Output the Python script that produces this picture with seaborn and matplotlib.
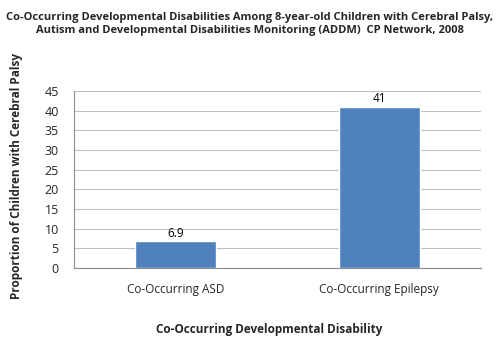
import matplotlib
matplotlib.use("Agg")
import matplotlib.pyplot as plt
import seaborn as sns
import pandas as pd

categories = ["Co-Occurring ASD", "Co-Occurring Epilepsy"]
values = [6.9, 41]
yticks = [0, 5, 10, 15, 20, 25, 30, 35, 40, 45]

sns.set_theme(style="white")
plt.rcParams["font.family"] = ["Open Sans", "DejaVu Sans"]

df = pd.DataFrame({"disability": categories, "proportion": values})

fig = plt.figure(figsize=(5.0, 3.43), dpi=100)
ax = fig.add_axes([0.148, 0.219, 0.814, 0.516])

sns.barplot(data=df, x="disability", y="proportion", color="#4F81BD",
            saturation=1, width=0.4, ax=ax, zorder=3)

for patch, v in zip(ax.patches, values):
    ax.text(patch.get_x() + patch.get_width() / 2, v + 0.3, f"{v:g}",
            ha="center", va="bottom", fontsize=8.5, color="#000000")

ax.set_ylim(0, 45)
ax.set_xlim(-0.5, 1.5)
ax.set_yticks(yticks)
ax.set_yticklabels([str(t) for t in yticks], fontsize=9)
ax.yaxis.grid(True, color="#bfbfbf", linewidth=0.8, zorder=0)
ax.set_axisbelow(True)

# category ticks sit at the group boundaries, labels at the centres
ax.set_xticks([-0.5, 0.5, 1.5])
ax.set_xticklabels([])
ax.set_xticks([0, 1], minor=True)
ax.set_xticklabels(categories, minor=True, fontsize=8.5)
ax.tick_params(axis="x", which="minor", length=0, pad=11)
ax.tick_params(axis="x", which="major", length=4, color="#8c8c8c", direction="out")
ax.tick_params(axis="y", length=3, color="#8c8c8c", direction="out", pad=8)

for side in ["top", "right"]:
    ax.spines[side].set_visible(False)
for side in ["left", "bottom"]:
    ax.spines[side].set_color("#8c8c8c")
    ax.spines[side].set_linewidth(0.8)

ax.set_xlabel("Co-Occurring Developmental Disability", fontsize=8.5,
              fontweight="bold")
ax.xaxis.set_label_coords(0.48, -0.31)
ax.set_ylabel("Proportion of Children with Cerebral Palsy", fontsize=8.5,
              fontweight="bold")
ax.yaxis.set_label_coords(-0.125, 0.52)

fig.text(0.5, 0.965,
         "Co-Occurring Developmental Disabilities Among 8-year-old Children with Cerebral Palsy,\n"
         "Autism and Developmental Disabilities Monitoring (ADDM)  CP Network, 2008",
         ha="center", va="top", fontsize=8, fontweight="bold", linespacing=1.3)

fig.savefig("out.png", dpi=100, facecolor="white")
